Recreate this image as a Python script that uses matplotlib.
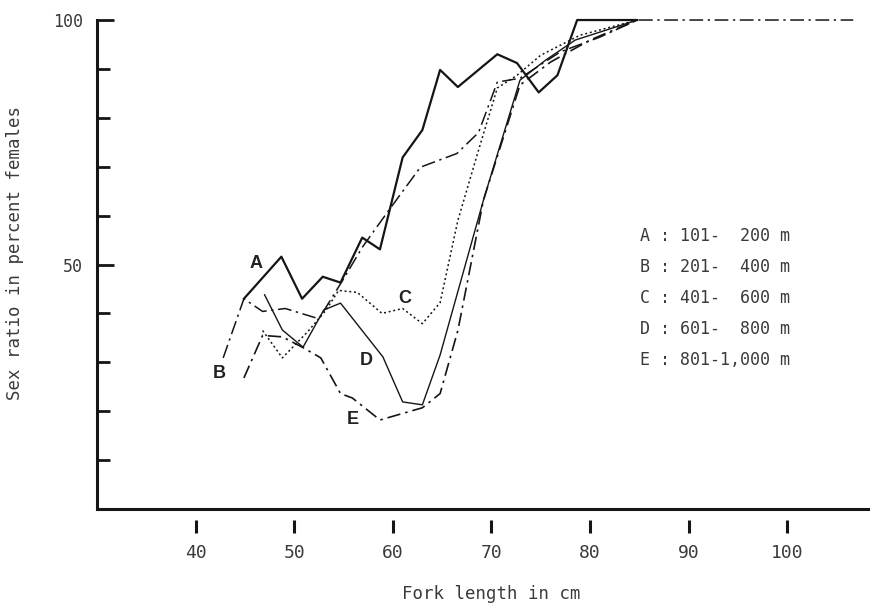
import matplotlib
matplotlib.use("Agg")
import matplotlib.pyplot as plt

# sex ratio (percent females) against fork length (cm), by depth stratum
a_x = [44.9, 48.7, 50.8, 52.9, 54.7, 56.9, 58.7, 61.0, 63.0, 64.8, 66.6, 70.6, 72.6, 74.8, 76.7, 78.7, 84.8]
a_y = [43.0, 51.6, 43.0, 47.5, 46.3, 55.5, 53.1, 71.9, 77.5, 89.8, 86.3, 93.0, 91.2, 85.2, 88.7, 100, 100]

b_x = [42.8, 44.9, 46.8, 49.1, 52.5, 54.9, 56.9, 59.6, 62.8, 66.5, 68.7, 70.6, 72.9, 77.0, 81.0, 84.8, 106.7]
b_y = [30.9, 43.0, 40.4, 41.0, 38.9, 46.7, 53.5, 61.1, 69.9, 72.7, 77.0, 87.3, 88.1, 93.5, 96.5, 100, 100]

c_x = [46.8, 48.8, 51.3, 53.2, 54.5, 56.4, 58.9, 61.0, 63.0, 64.8, 66.6, 68.7, 70.6, 72.6, 75.0, 79.0, 84.8]
c_y = [36.5, 30.9, 36.1, 40.6, 44.7, 44.3, 40.0, 41.0, 37.9, 42.2, 59.0, 73.4, 86.1, 88.7, 92.8, 96.9, 100]

d_x = [47.0, 48.8, 50.9, 53.0, 54.7, 59.0, 61.0, 63.0, 64.8, 69.2, 72.9, 75.5, 78.5, 84.8]
d_y = [43.8, 36.6, 33.1, 40.7, 42.1, 31.1, 21.9, 21.3, 31.5, 63.2, 87.7, 91.8, 95.9, 100]

e_x = [44.9, 46.8, 48.8, 50.9, 52.7, 54.7, 55.9, 58.7, 63.0, 64.8, 66.6, 69.2, 72.9, 76.0, 80.0, 84.8]
e_y = [26.8, 35.5, 35.2, 33.0, 30.9, 23.6, 22.7, 18.2, 20.7, 23.6, 36.5, 63.2, 86.7, 91.4, 95.9, 100]

curve_names = ["A", "B", "C", "D", "E"]
curve_label_pos = [(46.1, 50.2), (42.4, 27.7), (61.2, 43.0), (57.3, 30.3), (55.9, 18.3)]
depth_rows = [
    "A : 101-  200 m",
    "B : 201-  400 m",
    "C : 401-  600 m",
    "D : 601-  800 m",
    "E : 801-1,000 m",
]
x_ticks = [40, 50, 60, 70, 80, 90, 100]
y_major = [50, 100]
y_minor = [10, 20, 30, 40, 60, 70, 80, 90]

MONO = "DejaVu Sans Mono"
INK = "#151515"
TXT = "#3a3a3a"

fig = plt.figure(figsize=(8.73, 6.05), dpi=100)
ax = fig.add_axes([0.1111, 0.1587, 0.8832, 0.8082])

styles = [
    dict(ls="-", lw=1.6),
    dict(ls=(0, (9, 3, 1.5, 3)), lw=1.1),
    dict(ls=(0, (1.3, 1.8)), lw=1.1),
    dict(ls="-", lw=1.0),
    dict(ls=(0, (8, 3, 1.5, 3)), lw=1.2),
]
for (xs, ys), st in zip([(a_x, a_y), (b_x, b_y), (c_x, c_y), (d_x, d_y), (e_x, e_y)], styles):
    ax.plot(xs, ys, color=INK, clip_on=False, **st)

for name, (lx, ly) in zip(curve_names, curve_label_pos):
    ax.text(lx, ly, name, family="Liberation Sans", weight="bold", fontsize=13,
            color="#222222", ha="center", va="center")

for i, row in enumerate(depth_rows):
    ax.text(0.704, 0.558 - i * 0.0634, row, transform=ax.transAxes, family=MONO,
            fontsize=12, color=TXT, va="center", ha="left")

ax.set_xlim(30, 108.2)
ax.set_ylim(0, 100)
for side in ["top", "right"]:
    ax.spines[side].set_visible(False)
for side in ["left", "bottom"]:
    ax.spines[side].set_linewidth(2.2)
    ax.spines[side].set_color(INK)

ax.set_yticks(y_major)
ax.set_yticklabels([str(v) for v in y_major], family=MONO, fontsize=12, color=TXT)
ax.set_yticks(y_minor, minor=True)
ax.tick_params(axis="y", which="major", direction="in", length=12, width=2, color=INK, pad=10)
ax.tick_params(axis="y", which="minor", direction="in", length=9, width=2, color=INK)
ax.tick_params(axis="x", which="both", bottom=False, labelbottom=False)

# x ticks sit detached below the axis line
sec = ax.secondary_xaxis(-0.0225)
sec.set_xticks(x_ticks)
sec.set_xticklabels([str(v) for v in x_ticks], family=MONO, fontsize=13, color=TXT)
sec.spines["bottom"].set_visible(False)
sec.tick_params(direction="out", length=9.5, width=2.2, color=INK, pad=8)

fig.text(491 / 873, 1 - 594 / 605, "Fork length in cm", family=MONO, fontsize=12.5,
         color=TXT, ha="center", va="center")
fig.text(15 / 873, 1 - 253 / 605, "Sex ratio in percent females", family=MONO,
         fontsize=12.5, color=TXT, ha="center", va="center", rotation=90)

fig.savefig("out.png", dpi=100)
